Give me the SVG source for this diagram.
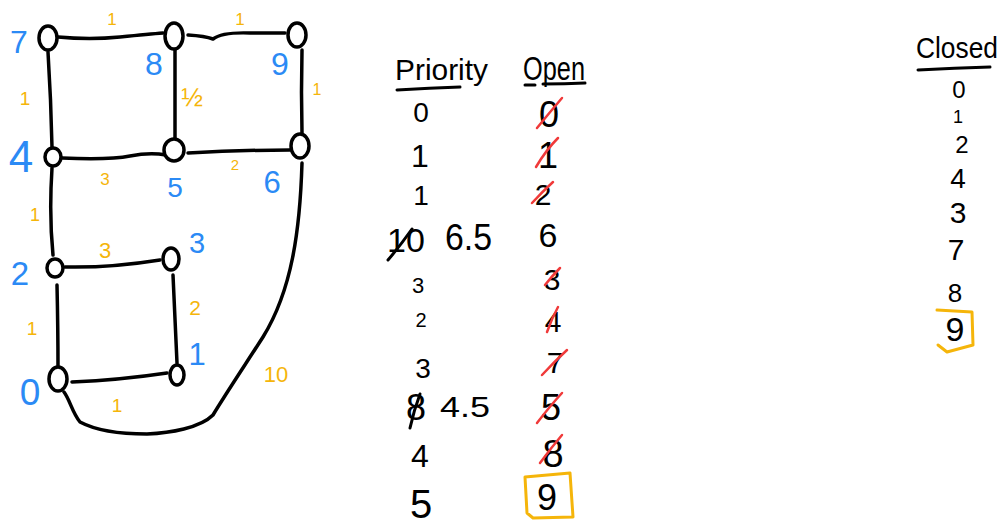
<svg xmlns="http://www.w3.org/2000/svg" width="1008" height="524" viewBox="0 0 1008 524">
  <style>
    .edge { fill: none; stroke: #000; stroke-width: 3.5; stroke-linecap: round; stroke-linejoin: round; }
    .node { fill: #fff; stroke: #000; stroke-width: 3.5; }
    .id { font-family: "Liberation Sans", "DejaVu Sans", sans-serif; fill: #2b8af5; text-anchor: middle; }
    .w { font-family: "Liberation Sans", "DejaVu Sans", sans-serif; fill: #f5b50a; text-anchor: middle; }
    .t { font-family: "Liberation Sans", "DejaVu Sans", sans-serif; fill: #000; text-anchor: middle; }
    .hd { font-family: "Liberation Sans", "DejaVu Sans", sans-serif; fill: #000; }
    .rule { fill: none; stroke: #000; stroke-width: 3; stroke-linecap: round; }
    .cross { fill: none; stroke: #f03a3a; stroke-width: 2.5; stroke-linecap: round; }
    .bcross { fill: none; stroke: #000; stroke-width: 3; stroke-linecap: round; }
    .box { fill: none; stroke: #f5b50a; stroke-width: 3; stroke-linecap: round; stroke-linejoin: round; }
  </style>

  <!-- graph edges -->
  <g id="edges">
    <path class="edge" d="M58,37 Q90,40 120,37 T163,33"/>
    <path class="edge" d="M188,35 Q205,36 213,39 Q222,32 250,33 L285,33"/>
    <path class="edge" d="M48,52 Q51,100 52,147"/>
    <path class="edge" d="M175,50 Q175,95 175,138"/>
    <path class="edge" d="M302,50 Q301,92 302,133"/>
    <path class="edge" d="M62,158 Q110,160 130,156 T166,155"/>
    <path class="edge" d="M188,153 Q240,150 290,150"/>
    <path class="edge" d="M52,168 Q49,215 53,255"/>
    <path class="edge" d="M65,267 Q110,268 160,260"/>
    <path class="edge" d="M173,275 Q175,320 177,363"/>
    <path class="edge" d="M57,285 Q58,330 58,367"/>
    <path class="edge" d="M72,382 Q120,380 167,373"/>
    <path class="edge" d="M302,163 C300,230 292,290 263,337 C245,365 225,395 213,415 C200,428 170,433 147,434 C120,434 95,430 80,422 C72,412 70,400 64,392"/>
  </g>

  <!-- graph nodes -->
  <g id="node-7"><ellipse class="node" cx="48" cy="38" rx="9" ry="12"/><text class="id" x="19" y="53" font-size="32">7</text></g>
  <g id="node-8"><ellipse class="node" cx="174" cy="36" rx="9" ry="13"/><text class="id" x="154" y="75" font-size="32">8</text></g>
  <g id="node-9"><ellipse class="node" cx="297" cy="35" rx="9" ry="12"/><text class="id" x="280" y="75" font-size="32">9</text></g>
  <g id="node-4"><ellipse class="node" cx="53" cy="157" rx="8" ry="9"/><text class="id" x="21" y="172" font-size="44">4</text></g>
  <g id="node-5"><ellipse class="node" cx="174" cy="150" rx="10" ry="11"/><text class="id" x="175" y="197" font-size="28">5</text></g>
  <g id="node-6"><ellipse class="node" cx="300" cy="146" rx="9" ry="12"/><text class="id" x="272" y="193" font-size="31">6</text></g>
  <g id="node-2"><ellipse class="node" cx="55" cy="268" rx="8" ry="9"/><text class="id" x="20" y="285" font-size="33">2</text></g>
  <g id="node-3"><ellipse class="node" cx="171" cy="259" rx="8" ry="11"/><text class="id" x="197" y="253" font-size="29">3</text></g>
  <g id="node-0"><ellipse class="node" cx="58" cy="379" rx="9" ry="12"/><text class="id" x="30" y="405" font-size="37">0</text></g>
  <g id="node-1"><ellipse class="node" cx="177" cy="375" rx="7" ry="10"/><text class="id" x="197" y="365" font-size="31">1</text></g>

  <!-- edge weights -->
  <g id="weights">
    <text class="w" x="112" y="25" font-size="17">1</text>
    <text class="w" x="240" y="25" font-size="17">1</text>
    <text class="w" x="25" y="105" font-size="19">1</text>
    <text class="w" x="192" y="106" font-size="26">½</text>
    <text class="w" x="317" y="95" font-size="16">1</text>
    <text class="w" x="105" y="185" font-size="17">3</text>
    <text class="w" x="235" y="170" font-size="15">2</text>
    <text class="w" x="35" y="221" font-size="18">1</text>
    <text class="w" x="105" y="258" font-size="22">3</text>
    <text class="w" x="195" y="315" font-size="21">2</text>
    <text class="w" x="32" y="335" font-size="19">1</text>
    <text class="w" x="276" y="382" font-size="22">10</text>
    <text class="w" x="117" y="412" font-size="19">1</text>
  </g>

  <!-- priority column -->
  <g id="priority">
    <text class="hd" x="395" y="80" font-size="30" textLength="93" lengthAdjust="spacingAndGlyphs">Priority</text>
    <path class="rule" d="M397,90 Q430,88 460,87"/>
    <text class="t" x="421" y="122" font-size="28">0</text>
    <text class="t" x="420" y="167" font-size="32">1</text>
    <text class="t" x="421" y="205" font-size="28">1</text>
    <text class="t" x="406" y="252" font-size="34">10</text>
    <path class="bcross" d="M388,260 Q400,246 412,229"/>
    <text class="hd" x="445" y="250" font-size="36" textLength="47" lengthAdjust="spacingAndGlyphs">6.5</text>
    <text class="t" x="418" y="293" font-size="22">3</text>
    <text class="t" x="421" y="327" font-size="20">2</text>
    <text class="t" x="423" y="378" font-size="28">3</text>
    <text class="t" x="416" y="420" font-size="36">8</text>
    <path class="bcross" d="M410,428 Q414,410 420,394"/>
    <text class="hd" x="440" y="417" font-size="30" textLength="50" lengthAdjust="spacingAndGlyphs">4.5</text>
    <text class="t" x="420" y="467" font-size="32">4</text>
    <text class="t" x="421" y="518" font-size="40">5</text>
  </g>

  <!-- open column -->
  <g id="open">
    <text class="hd" x="523" y="80" font-size="34" textLength="62" lengthAdjust="spacingAndGlyphs">Open</text>
    <path class="rule" d="M525,85 L535,85 M543,84 Q565,84 585,83"/>
    <text class="t" x="549" y="127" font-size="36">0</text>
    <path class="cross" d="M537,128 Q550,112 562,98"/>
    <text class="t" x="548" y="168" font-size="36">1</text>
    <path class="cross" d="M536,167 Q546,150 558,138"/>
    <text class="t" x="543" y="205" font-size="30">2</text>
    <path class="cross" d="M532,203 Q542,192 553,182"/>
    <text class="t" x="548" y="247" font-size="34">6</text>
    <text class="t" x="552" y="290" font-size="30">3</text>
    <path class="cross" d="M545,285 Q552,276 560,268"/>
    <text class="t" x="553" y="332" font-size="30">4</text>
    <path class="cross" d="M547,332 Q552,318 558,307"/>
    <text class="t" x="555" y="373" font-size="30">7</text>
    <path class="cross" d="M542,375 Q555,361 567,350"/>
    <text class="t" x="551" y="420" font-size="36">5</text>
    <path class="cross" d="M537,423 Q550,406 562,393"/>
    <text class="t" x="553" y="467" font-size="38">8</text>
    <path class="cross" d="M540,463 Q551,448 562,435"/>
    <text class="t" x="547" y="510" font-size="36">9</text>
    <path class="box" d="M525,477 L570,473 L573,517 L533,518 L527,513 Z"/>
  </g>

  <!-- closed column -->
  <g id="closed">
    <text class="hd" x="916" y="58" font-size="29" textLength="82" lengthAdjust="spacingAndGlyphs">Closed</text>
    <path class="rule" d="M918,70 Q955,68 990,67"/>
    <text class="t" x="959" y="98" font-size="24">0</text>
    <text class="t" x="958" y="123" font-size="18">1</text>
    <text class="t" x="962" y="153" font-size="24">2</text>
    <text class="t" x="958" y="188" font-size="28">4</text>
    <text class="t" x="958" y="223" font-size="30">3</text>
    <text class="t" x="956" y="260" font-size="30">7</text>
    <text class="t" x="955" y="302" font-size="26">8</text>
    <text class="t" x="955" y="341" font-size="34">9</text>
    <path class="box" d="M937,310 L972,312 L973,345 L947,352 L938,345"/>
  </g>
</svg>
